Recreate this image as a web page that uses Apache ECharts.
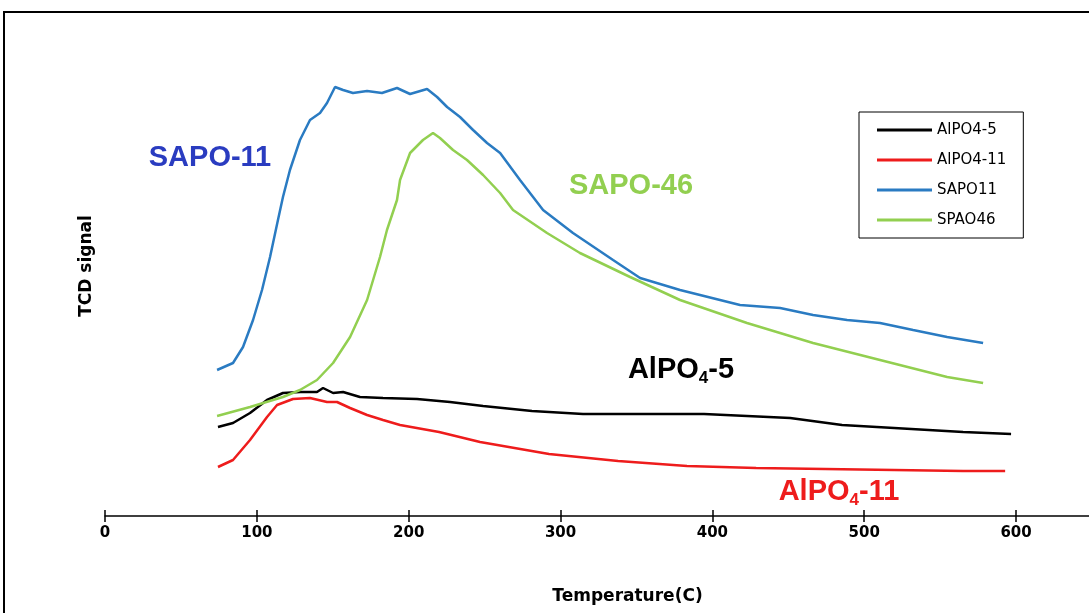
<!DOCTYPE html>
<html><head><meta charset="utf-8">
<script src="https://cdn.jsdelivr.net/npm/echarts@6/dist/echarts.min.js"></script>
<style>html,body{margin:0;padding:0;background:#fff}#c{width:1089px;height:613px}</style>
</head><body><div id="c"></div>
<script>
// Temperature (C) and TCD signal (arbitrary units)
const xTicks = [0, 100, 200, 300, 400, 500, 600];

const alpo5Temp   = [74.4, 84.3, 95.5, 106.7, 117.2, 128.4, 139.6, 143.6, 150.2, 156.8, 167.9, 183.1, 205.5, 227.2, 249.0, 281.2, 314.8, 349.1, 394.5, 451.2, 485.4, 519.7, 565.1, 596.7];
const alpo5Signal = [89, 93, 103, 116, 123, 124, 124, 128, 123, 124, 119, 118, 117, 114, 110, 105, 102, 102, 102, 98, 91, 88, 84, 82];

const alpo11Temp   = [74.4, 84.3, 95.5, 106.7, 113.3, 123.8, 135.0, 146.2, 152.8, 161.4, 172.6, 183.1, 194.3, 220.0, 247.0, 292.4, 337.9, 383.3, 428.8, 474.2, 519.7, 565.1, 592.8];
const alpo11Signal = [49, 56, 76, 99, 111, 117, 118, 114, 114, 108, 101, 96, 91, 84, 74, 62, 55, 50, 48, 47, 46, 45, 45];

const sapo11Temp   = [73.8, 84.3, 90.9, 97.5, 103.4, 108.7, 113.9, 117.2, 121.8, 128.4, 135.0, 141.6, 146.2, 151.5, 156.8, 163.3, 172.6, 182.4, 192.3, 200.9, 212.1, 218.7, 225.3, 233.8, 242.4, 251.6, 260.2, 273.3, 288.5, 308.2, 334.6, 352.4, 378.7, 418.2, 444.6, 466.3, 488.7, 510.4, 532.2, 554.6, 578.3];
const sapo11Signal = [146, 153, 169, 196, 226, 259, 296, 319, 346, 376, 396, 403, 413, 429, 426, 423, 425, 423, 428, 422, 427, 419, 409, 399, 386, 373, 363, 336, 306, 283, 256, 238, 226, 211, 208, 201, 196, 193, 186, 179, 173];

const sapo46Temp   = [73.8, 95.5, 117.2, 128.4, 139.6, 150.2, 161.4, 172.6, 181.1, 185.7, 192.3, 194.3, 200.9, 209.4, 216.0, 220.6, 229.2, 238.4, 249.0, 260.2, 268.7, 291.1, 312.8, 345.8, 378.7, 422.8, 466.3, 510.4, 554.6, 578.3];
const sapo46Signal = [100, 109, 119, 126, 136, 153, 179, 216, 259, 286, 316, 336, 363, 376, 383, 378, 366, 356, 341, 323, 306, 283, 263, 239, 216, 193, 173, 156, 139, 133];

const seriesNames = ['AlPO4-5', 'AlPO4-11', 'SAPO11', 'SPAO46'];
const seriesColors = ['#000000', '#ee1c1c', '#2a7bc2', '#92cf50'];

function pairs(t, v) { return t.map((x, i) => [x, v[i]]); }
const allData = [pairs(alpo5Temp, alpo5Signal), pairs(alpo11Temp, alpo11Signal), pairs(sapo11Temp, sapo11Signal), pairs(sapo46Temp, sapo46Signal)];

const chart = echarts.init(document.getElementById('c'), null, {renderer: 'canvas'});
const gridBox = {left: 105, top: 16, width: 987, height: 500, containLabel: false, outerBoundsMode: 'none'};
const bold = 'DejaVu Sans';

chart.setOption({
  backgroundColor: '#ffffff',
  animation: false,
  grid: [Object.assign({}, gridBox), Object.assign({}, gridBox)],
  xAxis: [{
    type: 'value', gridIndex: 0, min: 0, max: 650, interval: 100,
    axisLine: {lineStyle: {color: '#000', width: 1.5}},
    axisTick: {show: true, length: 6, lineStyle: {color: '#000', width: 1.5}},
    axisLabel: {color: '#000', fontFamily: bold, fontWeight: 'bold', fontSize: 15, margin: 10,
      formatter: v => xTicks.indexOf(v) >= 0 ? String(v) : ''},
    splitLine: {show: false},
    name: 'Temperature(C)', nameLocation: 'middle', nameGap: 72,
    nameTextStyle: {color: '#000', fontFamily: bold, fontWeight: 'bold', fontSize: 17, padding: [0, 0, 0, 58]}
  }, {
    type: 'value', gridIndex: 1, min: 0, max: 650, interval: 100,
    axisLine: {show: false},
    axisTick: {show: true, inside: true, length: 6, lineStyle: {color: '#000', width: 1.5}},
    axisLabel: {show: false}, splitLine: {show: false}
  }],
  yAxis: [{
    type: 'value', gridIndex: 0, min: 0, max: 500,
    axisLine: {show: false}, axisTick: {show: false}, axisLabel: {show: false}, splitLine: {show: false},
    name: 'TCD signal', nameLocation: 'middle', nameRotate: 90, nameGap: 10,
    nameTextStyle: {color: '#000', fontFamily: bold, fontWeight: 'bold', fontSize: 17}
  }, {
    type: 'value', gridIndex: 1, min: 0, max: 500, show: false
  }],
  legend: {
    orient: 'vertical', left: 859, top: 112,
    data: seriesNames,
    icon: 'rect', itemWidth: 55, itemHeight: 3, itemGap: 12,
    backgroundColor: '#fff', borderColor: '#000', borderWidth: 1, borderRadius: 0,
    padding: [9, 17, 9, 18],
    textStyle: {color: '#000', fontFamily: 'DejaVu Sans', fontSize: 15, lineHeight: 18}
  },
  series: seriesNames.map((n, i) => ({
    name: n, type: 'line', xAxisIndex: 0, yAxisIndex: 0,
    data: allData[i], showSymbol: false, symbol: 'none',
    color: seriesColors[i],
    lineStyle: {color: seriesColors[i], width: 2.5},
    z: [3, 2, 5, 4][i]
  })),
  graphic: [
    {type: 'rect', shape: {x: 4, y: 12, width: 1100, height: 700}, style: {fill: 'none', stroke: '#000', lineWidth: 2}, silent: true},
    {type: 'text', x: 210, y: 158, style: {text: 'SAPO-11', fill: '#2a3cc0', font: 'bold 29px "Liberation Sans", Arial, sans-serif', align: 'center', verticalAlign: 'middle'}},
    {type: 'text', x: 631, y: 186, style: {text: 'SAPO-46', fill: '#92cf50', font: 'bold 29px "Liberation Sans", Arial, sans-serif', align: 'center', verticalAlign: 'middle'}},
    {type: 'text', x: 681, y: 370, style: {text: '{m|AlPO}{s|4}{m|-5}', fill: '#000', align: 'center', verticalAlign: 'middle',
      rich: {m: {fill: '#000', font: 'bold 29px "Liberation Sans", Arial, sans-serif', height: 34},
             s: {fill: '#000', font: 'bold 17px "Liberation Sans", Arial, sans-serif', verticalAlign: 'bottom', padding: [14, 0, 0, 0]}}}},
    {type: 'text', x: 839, y: 492, style: {text: '{m|AlPO}{s|4}{m|-11}', fill: '#ee1c1c', align: 'center', verticalAlign: 'middle',
      rich: {m: {fill: '#ee1c1c', font: 'bold 29px "Liberation Sans", Arial, sans-serif', height: 34},
             s: {fill: '#ee1c1c', font: 'bold 17px "Liberation Sans", Arial, sans-serif', verticalAlign: 'bottom', padding: [14, 0, 0, 0]}}}}
  ]
});
</script></body></html>
